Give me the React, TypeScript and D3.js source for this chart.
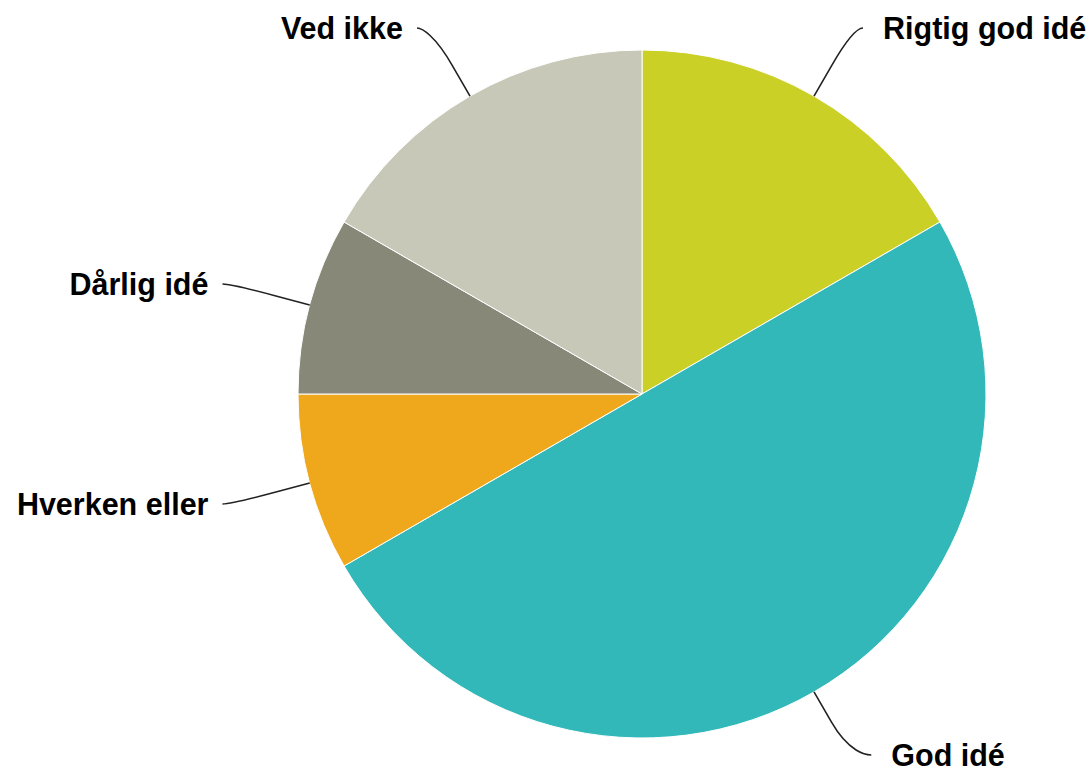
import React from "react";
import * as d3 from "d3";

const categories = ["Rigtig god idé", "God idé", "Hverken eller", "Dårlig idé", "Ved ikke"];
const values = [2, 6, 1, 1, 2];
const colors = ["#cbd026", "#32b8b9", "#efa81c", "#878878", "#c8c8b8"];

const width = 1086;
const height = 770;
const cx = 642;
const cy = 394;
const radius = 344;
const labelRadius = radius + 81;
const breakDist = 35;

const App = () => {
  const pie = d3.pie<number>().sort(null).value((d) => d);
  const arcs = pie(values);
  const arc = d3.arc<d3.PieArcDatum<number>>().innerRadius(0).outerRadius(radius);

  const labels = arcs.map((a, i) => {
    const mid = (a.startAngle + a.endAngle) / 2;
    const sx = Math.sin(mid);
    const sy = -Math.cos(mid);
    const left = sx < 0;
    const dir = left ? -1 : 1;
    const touch = [cx + radius * sx, cy + radius * sy];
    const brk = [cx + (radius + breakDist) * sx, cy + (radius + breakDist) * sy];
    // keep labels inside the box
    const y = Math.max(28, Math.min(height - 15, cy + labelRadius * sy));
    const ang = Math.asin(Math.max(-1, Math.min(1, (y - cy) / labelRadius)));
    const x = cx + dir * (Math.cos(ang) * labelRadius + (left ? 9 : 5));
    const path = d3.path();
    path.moveTo(x, y);
    path.bezierCurveTo(x - dir * 5, y, 2 * brk[0] - touch[0], 2 * brk[1] - touch[1], brk[0], brk[1]);
    path.lineTo(touch[0], touch[1]);
    return {
      name: categories[i],
      path: path.toString(),
      tx: x + dir * (left ? 14 : 20),
      ty: y,
      anchor: left ? "end" : "start",
    };
  });

  return (
    <svg
      width={width}
      height={height}
      style={{ position: "absolute", left: 0, top: 0, background: "#fff" }}
    >
      <g transform={`translate(${cx},${cy})`}>
        {arcs.map((a, i) => (
          <path key={i} d={arc(a) || ""} fill={colors[i]} stroke="#ffffff" strokeWidth={1} />
        ))}
      </g>
      {labels.map((l, i) => (
        <g key={i}>
          <path d={l.path} fill="none" stroke="#222222" strokeWidth={1.6} />
          <text
            x={l.tx}
            y={l.ty}
            dy="0.35em"
            textAnchor={l.anchor}
            fontFamily="Liberation Sans, Arial, sans-serif"
            fontWeight="bold"
            fontSize={30.5}
            fill="#000"
          >
            {l.name}
          </text>
        </g>
      ))}
    </svg>
  );
};

export default App;
